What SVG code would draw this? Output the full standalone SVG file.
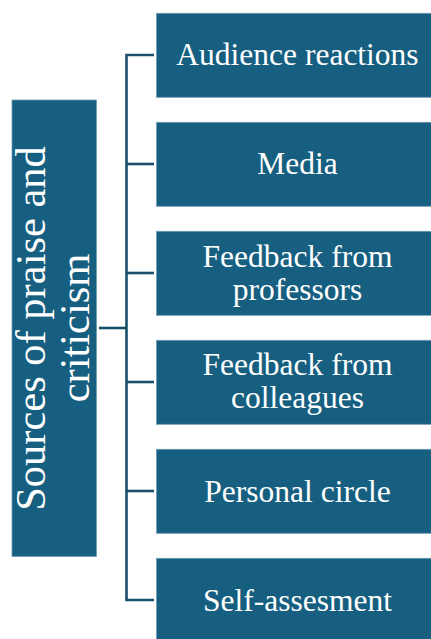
<svg xmlns="http://www.w3.org/2000/svg" width="431" height="639" viewBox="0 0 431 639">
<style>
.box{fill:#175F80;stroke:#6E9BB2;stroke-width:0.8}
.lbl{font-family:"Liberation Serif","Times New Roman",serif;font-size:31.5px;fill:#ffffff;text-anchor:middle}
.root{font-family:"Liberation Serif","Times New Roman",serif;font-size:42.5px;fill:#ffffff;text-anchor:middle}
.conn{fill:none;stroke:#1A4F6C;stroke-width:2.6}
</style>
<rect x="0" y="0" width="431" height="639" fill="#ffffff"/>
<g id="connectors">
<path class="conn" d="M99 328 H126.5"/>
<path class="conn" d="M154 55 H126.5 V600 H154"/>
<path class="conn" d="M126.5 164 H154"/>
<path class="conn" d="M126.5 273 H154"/>
<path class="conn" d="M126.5 382 H154"/>
<path class="conn" d="M126.5 491 H154"/>
</g>
<g id="root">
<rect class="box" x="12" y="100" width="84.5" height="456.5"/>
<text class="root" transform="translate(45,328.5) rotate(-90)" x="0" y="0">Sources of praise and</text>
<text class="root" transform="translate(89,328) rotate(-90)" x="0" y="0">criticism</text>
</g>
<g id="n1">
<rect class="box" x="156.5" y="13.3" width="282" height="84"/>
<text class="lbl" x="297.5" y="65">Audience reactions</text>
</g>
<g id="n2">
<rect class="box" x="156.5" y="122.3" width="282" height="84"/>
<text class="lbl" x="297.5" y="174">Media</text>
</g>
<g id="n3">
<rect class="box" x="156.5" y="231.3" width="282" height="84"/>
<text class="lbl" x="297.5" y="266.7">Feedback from</text>
<text class="lbl" x="297.5" y="299.8">professors</text>
</g>
<g id="n4">
<rect class="box" x="156.5" y="340.3" width="282" height="84"/>
<text class="lbl" x="297.5" y="375.3">Feedback from</text>
<text class="lbl" x="297.5" y="408.4">colleagues</text>
</g>
<g id="n5">
<rect class="box" x="156.5" y="449.3" width="282" height="84"/>
<text class="lbl" x="297.5" y="501.5">Personal circle</text>
</g>
<g id="n6">
<rect class="box" x="156.5" y="558.3" width="282" height="84"/>
<text class="lbl" x="297.5" y="610.5">Self-assesment</text>
</g>
</svg>
